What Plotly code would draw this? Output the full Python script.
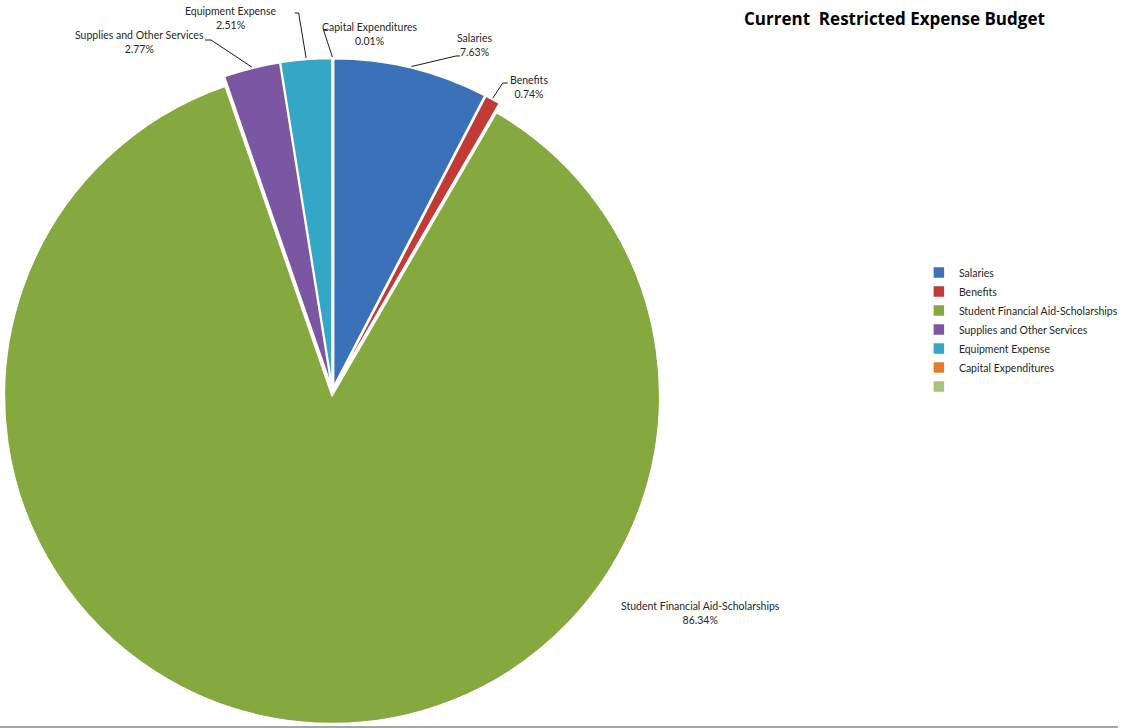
import math
import plotly.graph_objects as go

# ---- data ----
categories = ["Salaries", "Benefits", "Student Financial Aid-Scholarships",
              "Supplies and Other Services", "Equipment Expense", "Capital Expenditures", " "]
percentages = [7.63, 0.74, 86.34, 2.77, 2.51, 0.01, 0]
pct_labels = ["7.63%", "0.74%", "86.34%", "2.77%", "2.51%", "0.01%", ""]

colors = ["#3b71b8", "#c23a35", "#86a93f", "#7b56a2", "#35a7c6", "#e47b29", "#aac37c"]

W, H = 1123, 728
FONT = "Lato"

def px(x):
    return x / W

def py(y):
    return 1 - y / H

# pie geometry (pixels)
dom_x = (0, 668)
dom_y = (57, 725)
pull = 0.015
Ox = (dom_x[0] + dom_x[1]) / 2
Oy = (dom_y[0] + dom_y[1]) / 2
R = min(dom_x[1] - dom_x[0], dom_y[1] - dom_y[0]) / 2
r = R / (1 + pull)
d = pull * r

fig = go.Figure()
fig.add_trace(go.Pie(
    labels=categories,
    values=percentages,
    sort=False,
    direction="clockwise",
    rotation=0,
    pull=[pull] * len(percentages),
    marker=dict(colors=colors, line=dict(color="white", width=1.5)),
    textinfo="none",
    hoverinfo="label+percent",
    domain=dict(x=[px(dom_x[0]), px(dom_x[1])], y=[py(dom_y[1]), py(dom_y[0])]),
    showlegend=True,
))

# label placements (pixels): text centre, leader elbow, leader end
label_layout = {
    "Salaries": dict(text=(477, 45), path=[(458, 56), (462, 56)]),
    "Benefits": dict(text=(531, 87), path=[(505, 83), (510, 83)]),
    "Student Financial Aid-Scholarships": dict(text=(704, 613), path=None),
    "Supplies and Other Services": dict(text=(140, 42), path=[(212, 40), (206, 40)]),
    "Equipment Expense": dict(text=(232, 18), path=[(300, 13), (296, 13)]),
    "Capital Expenditures": dict(text=(372, 34), path=[(325, 30), (329, 29)]),
}

total = sum(percentages)
cum = 0.0
annotations = []
shapes = []
for cat, val, pl in zip(categories, percentages, pct_labels):
    mid = (cum + val / 2) / total
    cum += val
    if cat not in label_layout:
        continue
    theta = 2 * math.pi * mid
    ax = Ox + (r + d) * math.sin(theta)
    ay = Oy - (r + d) * math.cos(theta)
    info = label_layout[cat]
    tx, ty = info["text"]
    annotations.append(dict(
        x=px(tx), y=py(ty), xref="paper", yref="paper",
        text=f"{cat}<br>{pl}", showarrow=False, align="center",
        font=dict(family=FONT, size=10.5, color="#262626"),
        xanchor="center", yanchor="middle",
    ))
    if info["path"]:
        pts = [(ax, ay)] + info["path"]
        p = "M " + " L ".join(f"{px(x):.5f},{py(y):.5f}" for x, y in pts)
        shapes.append(dict(type="path", path=p, xref="paper", yref="paper",
                           line=dict(color="#1a1a1a", width=1)))

# title
annotations.append(dict(
    x=px(898), y=py(18), xref="paper", yref="paper",
    text="<b>Current  Restricted Expense Budget</b>", showarrow=False,
    font=dict(family="Open Sans", size=17, color="#000000"),
    xanchor="center", yanchor="middle",
))

# bottom frame line
shapes.append(dict(type="line", xref="paper", yref="paper", x0=0, x1=1,
                   y0=py(727), y1=py(727), line=dict(color="#a6a6a6", width=2)))

fig.update_layout(
    width=W, height=H,
    margin=dict(l=0, r=0, t=0, b=0),
    paper_bgcolor="white", plot_bgcolor="white",
    annotations=annotations, shapes=shapes,
    legend=dict(x=px(923), y=py(258), xanchor="left", yanchor="top",
                font=dict(family=FONT, size=10.5, color="#262626"),
                bgcolor="rgba(0,0,0,0)", itemclick=False),
    font=dict(family=FONT),
)

fig.write_html("out.html", config={"displayModeBar": False},
               post_script="document.body.style.margin='0px';")
